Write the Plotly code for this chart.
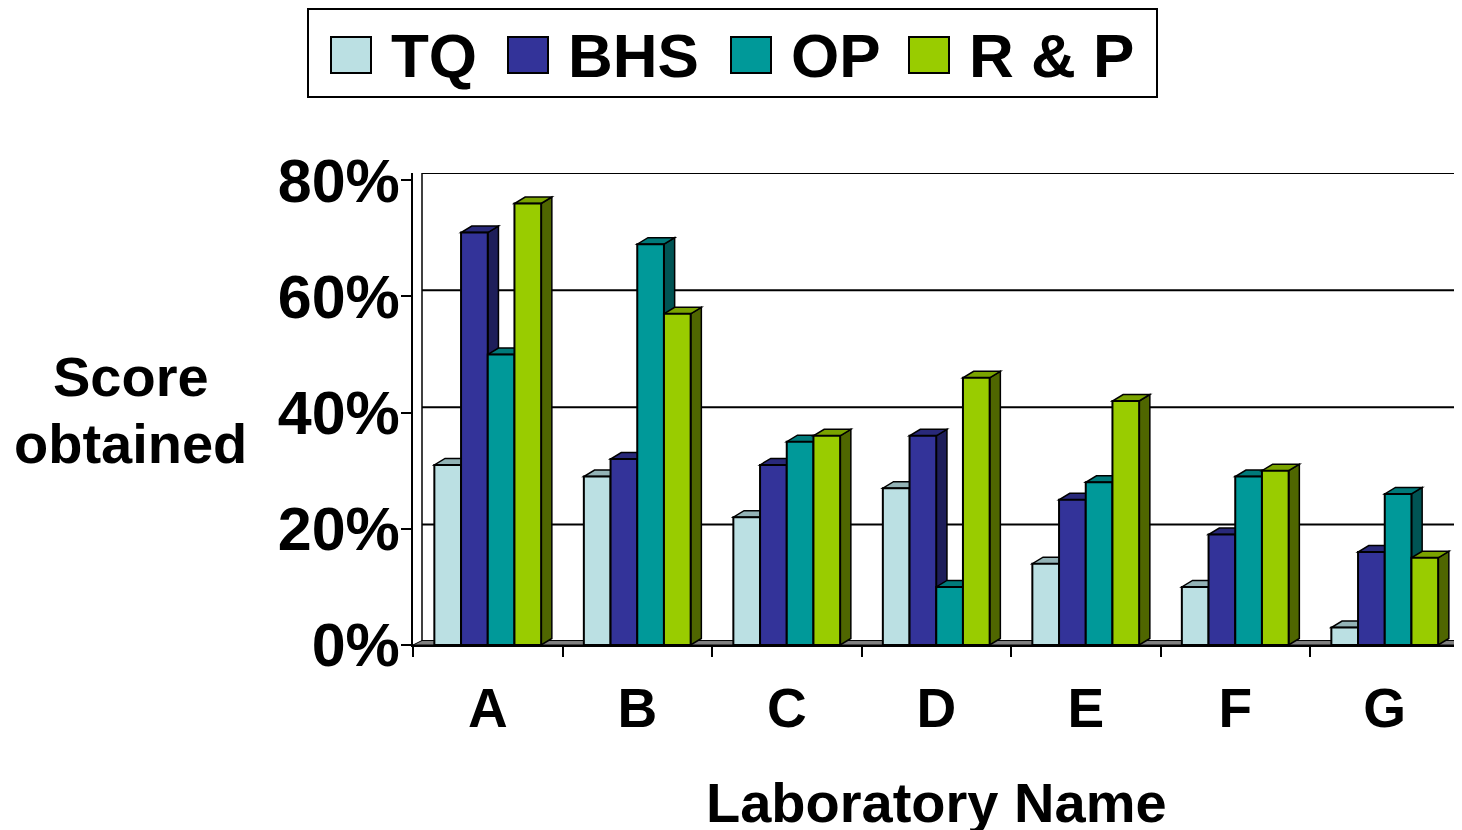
import plotly.graph_objects as go

# ---------------- data ----------------
labs = ["A", "B", "C", "D", "E", "F", "G"]
series_names = ["TQ", "BHS", "OP", "R & P"]
tq = [31, 29, 22, 27, 14, 10, 3]
bhs = [71, 32, 31, 36, 25, 19, 16]
op = [50, 69, 35, 10, 28, 29, 26]
rp = [76, 57, 36, 46, 42, 30, 15]
y_ticks = [0, 20, 40, 60, 80]

series_vals = [tq, bhs, op, rp]
front_cols = ["#BBE0E3", "#333399", "#009999", "#99CC00"]
top_cols = ["#93B3B6", "#29297A", "#007A7A", "#7AA300"]
side_cols = ["#6F8C8F", "#1E1E5A", "#005454", "#4F6600"]

# page has an 8px body margin: work in screen pixels, convert to figure pixels
PAD = 8
W, H = 1462 - PAD, 830 - PAD
ML = 413 - PAD
MR = 0
MT = 173 - PAD
MB = H - (645 - PAD)
PW, PH = W - ML - MR, H - MT - MB
XR = [-0.5, -0.5 + PW / 149.5]
YR = [0, 81.25]

FONT = "Liberation Sans, Arial, sans-serif"

bw = 0.1786
off0 = -2 * bw
dx = 10.7 / 149.5          # depth in x (category units)
dy = 6.5 / (PH / YR[1])    # depth in y (value units)

xs = list(range(len(labs)))

fig = go.Figure()
for i, (name, vals) in enumerate(zip(series_names, series_vals)):
    fig.add_trace(go.Bar(
        x=xs, y=vals, name=name, width=bw, offset=off0 + i * bw,
        marker=dict(color=front_cols[i], line=dict(color="black", width=2)),
        showlegend=False,
    ))

shapes = []


def back_y(v):
    return 0.568 + 1.0085 * v


xb = XR[0] + 9 / 149.5
for v in y_ticks[1:]:
    shapes.append(dict(type="line", xref="x", yref="y", x0=xb, x1=XR[1],
                       y0=back_y(v), y1=back_y(v), layer="below",
                       line=dict(color="black", width=2)))
shapes.append(dict(type="line", xref="x", yref="y", x0=xb, x1=xb,
                   y0=back_y(0), y1=back_y(80), layer="below",
                   line=dict(color="black", width=1.5)))
# floor
shapes.append(dict(type="path", xref="x", yref="y", layer="below",
                   path=f"M {XR[0]},0 L {xb},{back_y(0) + 0.2} L {XR[1]},{back_y(0) + 0.2} L {XR[1]},0 Z",
                   fillcolor="#808080", line=dict(color="black", width=1)))
# bar depth faces (top and side), derived from the data
for i, vals in enumerate(series_vals):
    for xc, v in zip(xs, vals):
        x0 = xc + off0 + i * bw
        x1 = x0 + bw
        shapes.append(dict(type="path", xref="x", yref="y", layer="below",
                           path=f"M {x1},0 L {x1},{v} L {x1+dx},{v+dy} L {x1+dx},{dy} Z",
                           fillcolor=side_cols[i], line=dict(color="black", width=1.5)))
        shapes.append(dict(type="path", xref="x", yref="y", layer="below",
                           path=f"M {x0},{v} L {x1},{v} L {x1+dx},{v+dy} L {x0+dx},{v+dy} Z",
                           fillcolor=top_cols[i], line=dict(color="black", width=1.5)))


# screen pixel -> paper coords
def px(xp):
    return (xp - PAD - ML) / PW


def py(yp):
    return (H - MB - (yp - PAD)) / PH


shapes.append(dict(type="rect", xref="paper", yref="paper", layer="above",
                   x0=px(308), x1=px(1157), y0=py(97), y1=py(9),
                   line=dict(color="black", width=2), fillcolor="white"))
sw_x = [331, 508, 731, 909]
annotations = []
for i, name in enumerate(series_names):
    shapes.append(dict(type="rect", xref="paper", yref="paper", layer="above",
                       x0=px(sw_x[i]), x1=px(sw_x[i] + 40), y0=py(73), y1=py(37),
                       line=dict(color="black", width=2), fillcolor=front_cols[i]))
    annotations.append(dict(xref="paper", yref="paper", x=px(sw_x[i] + 58), y=py(55),
                            text=f"<b>{name}</b>", showarrow=False, xanchor="left",
                            yanchor="middle", font=dict(family=FONT, size=62, color="black")))

annotations.append(dict(xref="paper", yref="paper", x=px(131), y=py(376), text="<b>Score</b>",
                        showarrow=False, xanchor="center", yanchor="middle",
                        font=dict(family=FONT, size=56, color="black")))
annotations.append(dict(xref="paper", yref="paper", x=px(130), y=py(443), text="<b>obtained</b>",
                        showarrow=False, xanchor="center", yanchor="middle",
                        font=dict(family=FONT, size=56, color="black")))
annotations.append(dict(xref="paper", yref="paper", x=px(936), y=py(802),
                        text="<b>Laboratory Name</b>", showarrow=False,
                        xanchor="center", yanchor="middle",
                        font=dict(family=FONT, size=56, color="black")))

fig.update_layout(
    width=W, height=H,
    margin=dict(l=ML, r=MR, t=MT, b=MB, autoexpand=False),
    paper_bgcolor="white", plot_bgcolor="white",
    barmode="overlay",
    showlegend=False,
    shapes=shapes,
    annotations=annotations,
    xaxis=dict(range=XR, tickmode="array", tickvals=xs,
               ticktext=[f"<b>{l}</b>" for l in labs],
               tickfont=dict(family=FONT, size=55, color="black"),
               ticks="", showgrid=False, zeroline=False,
               showline=True, linecolor="black", linewidth=2,
               ticklabelstandoff=14,
               minor=dict(tickmode="linear", tick0=-0.5, dtick=1, ticks="outside",
                          ticklen=10, tickwidth=2, tickcolor="black", showgrid=False)),
    yaxis=dict(range=YR, tickmode="array", tickvals=y_ticks,
               ticktext=[f"<b>{v}%</b>" for v in y_ticks],
               tickfont=dict(family=FONT, size=61, color="black"),
               ticks="outside", ticklen=10, tickwidth=2, tickcolor="black",
               ticklabelstandoff=-11,
               showgrid=False, zeroline=False,
               showline=True, linecolor="black", linewidth=2),
)

fig.write_html("out.html")
